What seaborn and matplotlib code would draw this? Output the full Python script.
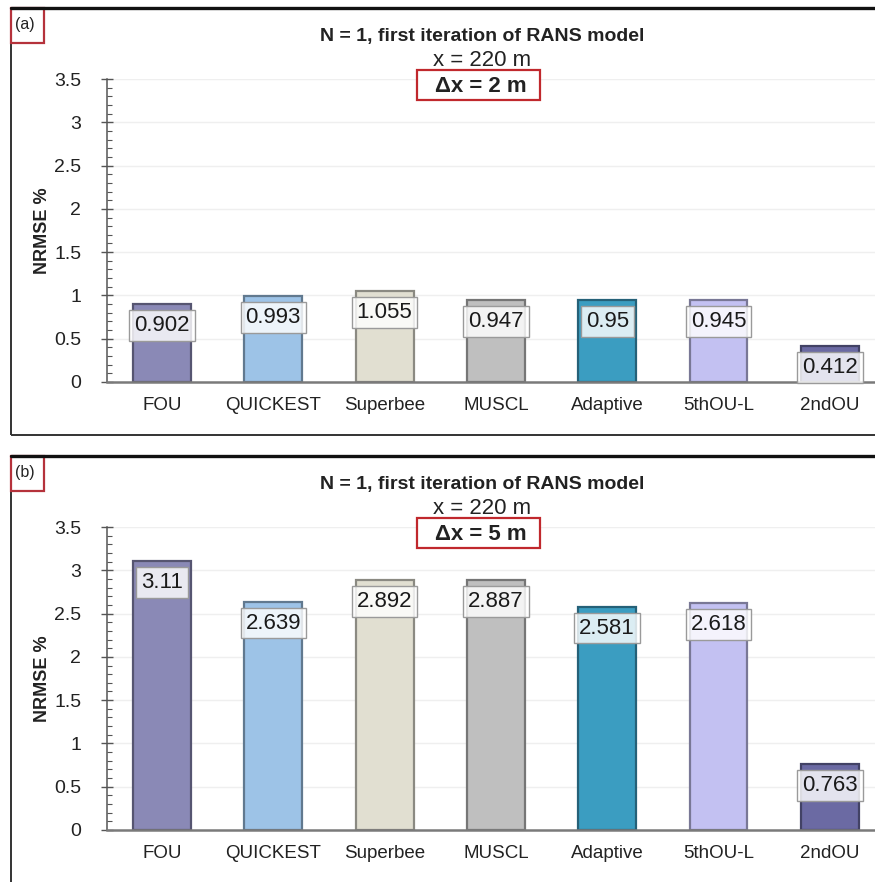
import matplotlib
matplotlib.use("Agg")
import matplotlib.pyplot as plt
import seaborn as sns
import pandas as pd
from matplotlib.patches import Rectangle
from matplotlib.ticker import MultipleLocator
from matplotlib.colors import to_rgb

# NRMSE (%) of each advection scheme, first RANS iteration (N = 1), at x = 220 m
schemes = ["FOU", "QUICKEST", "Superbee", "MUSCL", "Adaptive", "5thOU-L", "2ndOU"]
nrmse_dx2 = [0.902, 0.993, 1.055, 0.947, 0.95, 0.945, 0.412]
nrmse_dx5 = [3.11, 2.639, 2.892, 2.887, 2.581, 2.618, 0.763]
panel_tags = ["(a)", "(b)"]
spacing_labels = ["Δx = 2 m", "Δx = 5 m"]
title_main = "N = 1, first iteration of RANS model"
title_station = "x = 220 m"
y_ticks = [0, 0.5, 1, 1.5, 2, 2.5, 3, 3.5]

scheme_colors = ["#8a89b6", "#9dc3e7", "#e1dfd1", "#bfbfbf", "#3b9dc1", "#c3c1f2", "#6b6aa3"]

W, H = 875, 882
DPI = 100

sns.set_theme(style="white")
plt.rcParams["font.family"] = ["Liberation Sans", "DejaVu Sans"]

fig = plt.figure(figsize=(W / DPI, H / DPI), dpi=DPI)


def fx(x):
    return x / W


def fy(y):
    return 1 - y / H


def darker(c, f=0.62):
    r, g, b = to_rgb(c)
    return (r * f, g * f, b * f)


def draw_panel(values, tag, spacing, dy):
    # panel frame
    frame_top, frame_bot = 8 + dy, 435 + dy
    fig.add_artist(Rectangle((fx(11), fy(frame_bot)), 1.2, fy(frame_top) - fy(frame_bot),
                             transform=fig.transFigure, fill=False, ec="#333333", lw=1.4,
                             zorder=0))
    fig.add_artist(plt.Line2D([fx(11), 1], [fy(frame_top), fy(frame_top)],
                              transform=fig.transFigure, color="#111111", lw=2.4))
    # panel tag in red box
    fig.add_artist(Rectangle((fx(11), fy(43 + dy)), fx(44) - fx(11), fy(8 + dy) - fy(43 + dy),
                             transform=fig.transFigure, fill=False, ec="#b5323b", lw=1.6))
    fig.text(fx(25), fy(25 + dy), tag, ha="center", va="center", fontsize=11.5, color="#222222")

    # titles
    cx = fx(482)
    fig.text(cx, fy(36 + dy), title_main, ha="center", va="center", fontsize=14,
             fontweight="bold", color="#222222")
    fig.text(cx, fy(61 + dy), title_station, ha="center", va="center", fontsize=16,
             color="#222222")
    fig.add_artist(Rectangle((fx(417), fy(100 + dy)), fx(540) - fx(417), fy(70 + dy) - fy(100 + dy),
                             transform=fig.transFigure, fc="white", ec="#c0282d", lw=1.6,
                             zorder=3))
    fig.text(fx(481), fy(86 + dy), spacing, ha="center", va="center", fontsize=16,
             fontweight="bold", color="#222222", zorder=4)

    # axes
    top, bot = 79 + dy, 382 + dy
    ax = fig.add_axes([fx(107), fy(bot), 1 - fx(107), fy(top) - fy(bot)])
    df = pd.DataFrame({"scheme": schemes, "nrmse": values})
    sns.barplot(data=df, x="scheme", y="nrmse", hue="scheme", palette=scheme_colors,
                saturation=1, legend=False, width=0.52, ax=ax, zorder=2)
    for patch, c in zip(ax.patches, scheme_colors):
        patch.set_edgecolor(darker(c))
        patch.set_linewidth(1.6)

    for i, v in enumerate(values):
        ax.annotate(f"{v:g}", xy=(i, v), xytext=(0, -15.5), textcoords="offset points",
                    ha="center", va="center", fontsize=16, color="#1a1a1a", zorder=5,
                    bbox=dict(boxstyle="square,pad=0.22", fc=(1, 1, 1, 0.82),
                              ec="#9a9a9a", lw=1))

    ax.set_xlim(-0.494, 6.406)
    ax.set_ylim(0, 3.5)
    ax.set_yticks(y_ticks)
    ax.set_yticklabels([f"{t:g}" for t in y_ticks])
    ax.yaxis.set_minor_locator(MultipleLocator(0.1))
    ax.grid(axis="y", which="major", color="#efefef", lw=1, zorder=0)
    ax.set_axisbelow(True)
    for s in ["top", "right"]:
        ax.spines[s].set_visible(False)
    ax.spines["left"].set_color("#555555")
    ax.spines["left"].set_linewidth(1.1)
    ax.spines["bottom"].set_color("#7a7a7a")
    ax.spines["bottom"].set_linewidth(1.8)
    ax.tick_params(axis="y", which="major", direction="inout", length=9, width=1,
                   color="#555555", labelsize=14, pad=14, labelcolor="#222222", left=True)
    ax.tick_params(axis="y", which="minor", direction="in", length=3.5, width=0.8,
                   color="#555555", left=True)
    ax.tick_params(axis="x", length=0, labelsize=13.5, pad=11, labelcolor="#222222")
    ax.set_xlabel("")
    ax.set_ylabel("NRMSE %", fontsize=13, fontweight="bold", color="#222222")
    ax.yaxis.set_label_coords((51 - 107) / (W - 107), 0.5)
    ax.patch.set_alpha(0)
    return ax


draw_panel(nrmse_dx2, panel_tags[0], spacing_labels[0], 0)
draw_panel(nrmse_dx5, panel_tags[1], spacing_labels[1], 448)

fig.savefig("out.png", dpi=DPI)
